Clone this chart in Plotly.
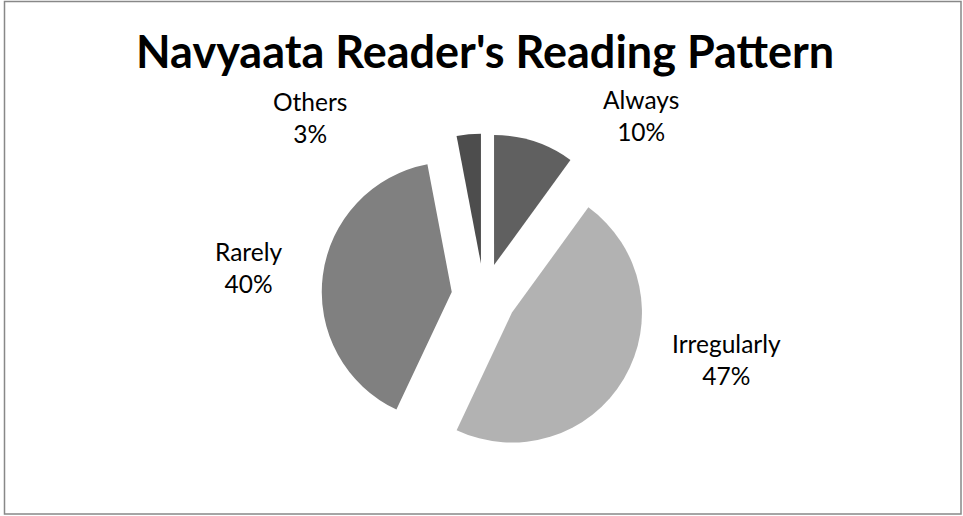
import plotly.graph_objects as go

categories = ["Always", "Irregularly", "Rarely", "Others"]
values = [10, 47, 40, 3]
colors = ["#606060", "#b2b2b2", "#808080", "#4d4d4d"]
title_text = "Navyaata Reader's Reading Pattern"

# label anchor positions (paper coords) for the data labels
label_pos = {
    "Always": (641 / 963, 1 - 116 / 516),
    "Irregularly": (726 / 963, 1 - 359 / 516),
    "Rarely": (248 / 963, 1 - 267 / 516),
    "Others": (310 / 963, 1 - 118 / 516),
}

total = sum(values)

fig = go.Figure(
    go.Pie(
        labels=categories,
        values=values,
        sort=False,
        direction="clockwise",
        rotation=0,
        pull=[0.25] * len(values),
        marker=dict(colors=colors, line=dict(width=0)),
        textinfo="none",
        hoverinfo="label+percent",
        showlegend=False,
        domain=dict(x=[321.5 / 963, 646.5 / 963], y=[1 - 458.5 / 516, 1 - 133.5 / 516]),
    )
)

annotations = [
    dict(
        text=title_text,
        x=484.5 / 963, y=1 - 51 / 516, xref="paper", yref="paper",
        xanchor="center", yanchor="middle", showarrow=False,
        font=dict(family="Lato", size=45, color="#000000", weight="bold"),
    )
]
for cat, val in zip(categories, values):
    x, y = label_pos[cat]
    annotations.append(
        dict(
            text=f"{cat}<br>{round(100 * val / total)}%",
            x=x, y=y, xref="paper", yref="paper",
            xanchor="center", yanchor="middle", showarrow=False,
            font=dict(family="Lato", size=24.5, color="#000000"),
        )
    )

fig.update_layout(
    width=963,
    height=516,
    margin=dict(l=0, r=0, t=0, b=0),
    paper_bgcolor="#ffffff",
    plot_bgcolor="#ffffff",
    annotations=annotations,
    shapes=[
        dict(
            type="rect", xref="paper", yref="paper",
            x0=4.5 / 963, x1=961 / 963, y0=1 - 514 / 516, y1=1 - 1.5 / 516,
            line=dict(color="#888888", width=1.5), fillcolor="rgba(0,0,0,0)",
        )
    ],
)

fig.write_html(
    "out.html",
    config={"displayModeBar": False},
    post_script="document.body.style.margin='0';document.body.style.overflow='hidden';",
)
